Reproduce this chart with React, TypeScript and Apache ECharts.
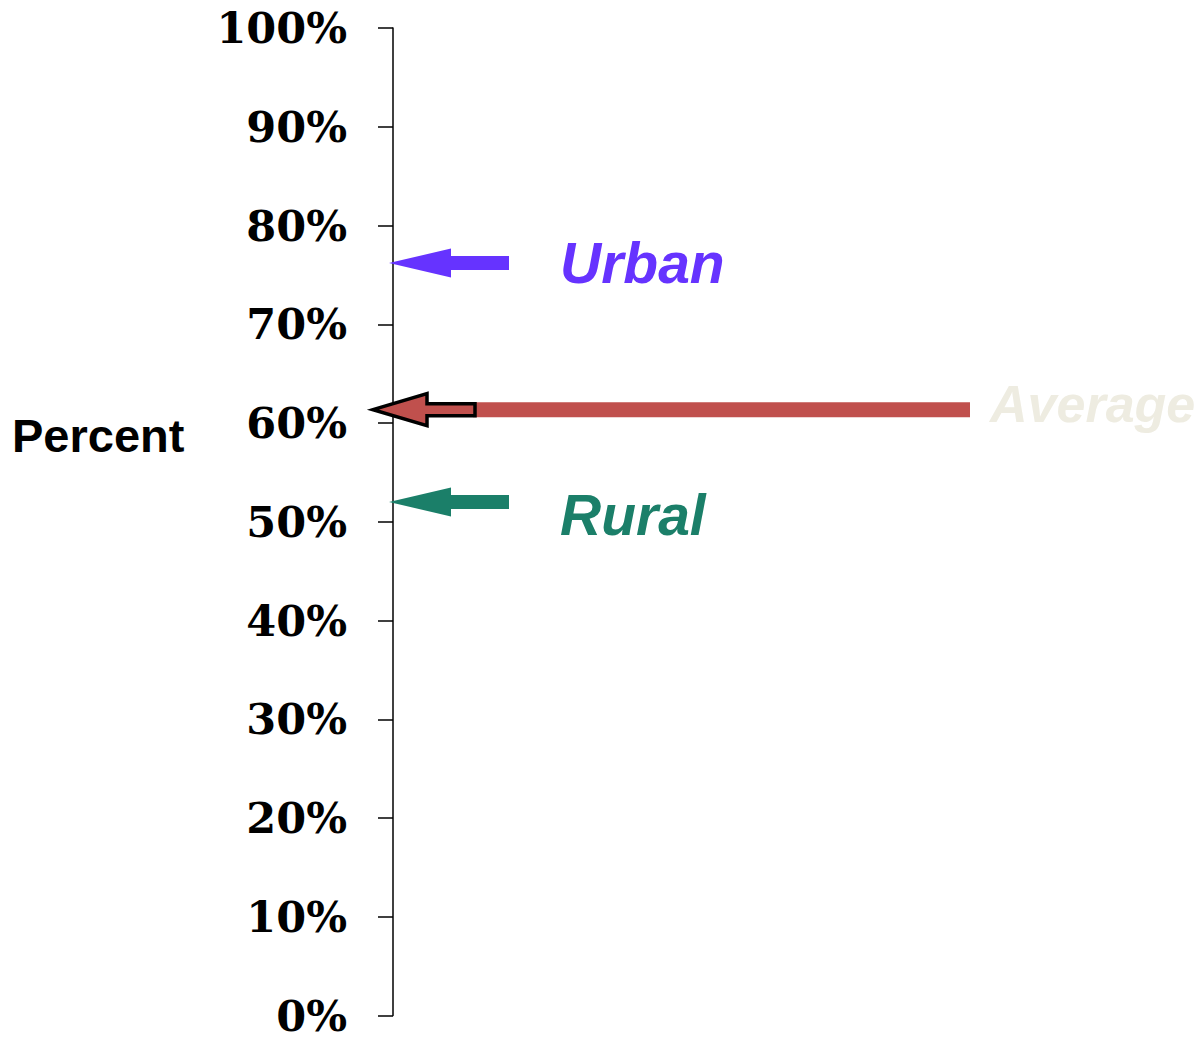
import React, { useEffect, useRef } from "react";
import * as echarts from "echarts";

// ---- data ----
const categories = ["Urban", "Average", "Rural"];
const values = [76.2, 61.35, 52.0];
const labelColors = ["#6633FF", "#EEECE1", "#1B7F69"];
const arrowColors = ["#6633FF", "#C0504D", "#1B7F69"];
const yTicks = [0, 10, 20, 30, 40, 50, 60, 70, 80, 90, 100];

export default function App() {
  const ref = useRef<HTMLDivElement>(null);

  useEffect(() => {
    document.body.style.margin = "0";
    document.body.style.overflow = "hidden";
    const chart = echarts.init(ref.current!, null, { renderer: "svg" });

    const renderItem = (params: any, api: any) => {
      const i = params.dataIndex;
      const [x0, y] = api.coord([0, api.value(1)]);
      const children: any[] = [];
      if (categories[i] === "Average") {
        children.push({
          type: "rect",
          shape: { x: x0 + 80, y: y - 7.5, width: 497, height: 15 },
          style: { fill: arrowColors[i] },
        });
        children.push({
          type: "polygon",
          shape: {
            points: [
              [x0 - 20, y],
              [x0 + 34, y - 16],
              [x0 + 34, y - 6],
              [x0 + 82, y - 6],
              [x0 + 82, y + 6],
              [x0 + 34, y + 6],
              [x0 + 34, y + 16],
            ],
          },
          style: { fill: arrowColors[i], stroke: "#000000", lineWidth: 3.5, lineJoin: "miter" },
        });
        children.push({
          type: "text",
          style: {
            text: categories[i],
            x: x0 + 597,
            y: y - 6,
            fill: labelColors[i],
            fontFamily: "Liberation Sans",
            fontSize: 52,
            fontWeight: "bold",
            fontStyle: "italic",
            align: "left",
            verticalAlign: "middle",
          },
        });
      } else {
        children.push({
          type: "polygon",
          shape: {
            points: [
              [x0 - 4, y],
              [x0 + 58, y - 14.5],
              [x0 + 58, y - 7],
              [x0 + 116, y - 7],
              [x0 + 116, y + 7],
              [x0 + 58, y + 7],
              [x0 + 58, y + 14.5],
            ],
          },
          style: { fill: arrowColors[i] },
        });
        children.push({
          type: "text",
          style: {
            text: categories[i],
            x: x0 + 167,
            y: categories[i] === "Rural" ? y + 13 : y,
            fill: labelColors[i],
            fontFamily: "Liberation Sans",
            fontSize: 57,
            fontWeight: "bold",
            fontStyle: "italic",
            align: "left",
            verticalAlign: "middle",
          },
        });
      }
      return { type: "group", children };
    };

    chart.setOption({
      animation: false,
      backgroundColor: "#ffffff",
      grid: { left: 393, right: 0, top: 28, bottom: 18, containLabel: false },
      xAxis: { type: "value", min: 0, max: 1, show: false },
      yAxis: {
        type: "value",
        min: yTicks[0],
        max: yTicks[yTicks.length - 1],
        interval: 10,
        axisLine: { show: true, lineStyle: { color: "#000000", width: 1.5 } },
        axisTick: { show: true, inside: false, length: 15, lineStyle: { color: "#000000", width: 1.5 } },
        splitLine: { show: false },
        axisLabel: {
          margin: 46,
          formatter: (v: number) => `${v}%`,
          color: "#000000",
          fontFamily: "DejaVu Serif",
          fontWeight: "bold",
          fontSize: 43,
          lineHeight: 30,
        },
      },
      graphic: [
        {
          type: "text",
          left: 12,
          top: 412,
          style: {
            text: "Percent",
            fill: "#000000",
            fontFamily: "Liberation Sans",
            fontWeight: "bold",
            fontSize: 47,
          },
        },
      ],
      series: [
        {
          type: "custom",
          renderItem,
          data: values.map((v) => [0, v]),
          clip: false,
          silent: true,
        },
      ],
    });

    return () => chart.dispose();
  }, []);

  return <div ref={ref} style={{ width: 1201, height: 1037 }} />;
}
